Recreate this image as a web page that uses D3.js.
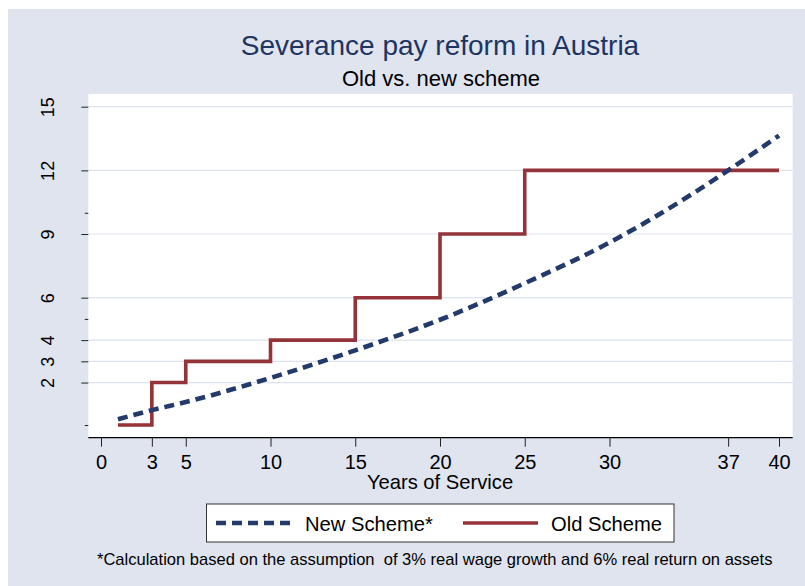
<!DOCTYPE html>
<html>
<head>
<meta charset="utf-8">
<script src="https://cdn.jsdelivr.net/npm/d3@7"></script>
<style>
  html, body { margin: 0; padding: 0; background: #ffffff; }
  svg { display: block; font-family: "Liberation Sans", Arial, Helvetica, sans-serif; }
</style>
</head>
<body>
<svg id="chart" width="805" height="586"></svg>
<script>
// ---- Data ----
const newYears = [1, 3, 5, 10, 15, 20, 25, 30, 35, 37, 40];
const newValues = [0.27, 0.70, 1.08, 2.22, 3.52, 4.96, 6.68, 8.6, 10.95, 12.0, 13.64];
const oldYears = [1, 3, 5, 10, 15, 20, 25, 40];
const oldValues = [0, 2, 3, 4, 6, 9, 12, 12];
const xTickValues = [0, 3, 5, 10, 15, 20, 25, 30, 37, 40];
const yMajorTicks = [2, 3, 4, 6, 9, 12, 15];
const yMinorTicks = [0, 5, 10];
const titleText = "Severance pay reform in Austria";
const subtitleText = "Old vs. new scheme";
const xTitle = "Years of Service";
const legendLabels = ["New Scheme*", "Old Scheme"];
const noteText = "*Calculation based on the assumption  of 3% real wage growth and 6% real return on assets";

// ---- Layout ----
const W = 805, H = 586;
const plot = { left: 88.3, right: 792.7, top: 94, bottom: 437.7 };
const navy = "#243a6b", maroon = "#943339";
const bg = "#dfe4ef";

const svg = d3.select("#chart");
svg.append("rect").attr("x", 8).attr("y", 9).attr("width", W - 8).attr("height", H - 9).attr("fill", bg);
svg.append("rect").attr("x", plot.left).attr("y", plot.top)
  .attr("width", plot.right - plot.left).attr("height", plot.bottom - plot.top).attr("fill", "#ffffff");

const x = d3.scaleLinear().domain([0, 40]).range([101, 779]);
const y = d3.scaleLinear().domain([0, 15]).range([425, 106.7]);

// gridlines
svg.append("g").selectAll("line").data(yMajorTicks).join("line")
  .attr("x1", plot.left).attr("x2", plot.right)
  .attr("y1", d => y(d)).attr("y2", d => y(d))
  .attr("stroke", "#dde3ee").attr("stroke-width", 1.2);

// x axis
const xAxis = svg.append("g").attr("transform", `translate(0,${plot.bottom})`)
  .call(d3.axisBottom(x).tickValues(xTickValues).tickSize(9).tickPadding(8).tickFormat(d3.format("d")));
xAxis.select(".domain").remove();
xAxis.selectAll(".tick line").attr("stroke", "#222").attr("stroke-width", 1);
xAxis.selectAll(".tick text").attr("font-size", 20).attr("fill", "#000")
  .attr("font-family", "'Liberation Sans', Arial, sans-serif");
svg.append("line").attr("x1", plot.left).attr("x2", plot.right)
  .attr("y1", plot.bottom).attr("y2", plot.bottom).attr("stroke", "#000").attr("stroke-width", 1.2);

// y axis
const yAxis = svg.append("g").attr("transform", `translate(${plot.left},0)`)
  .call(d3.axisLeft(y).tickValues(yMajorTicks).tickSize(7).tickFormat(d3.format("d")));
yAxis.select(".domain").remove();
yAxis.selectAll(".tick line").attr("stroke", "#222");
yAxis.selectAll(".tick text")
  .attr("x", null).attr("dy", null).attr("y", 0)
  .attr("text-anchor", "middle")
  .attr("transform", `translate(${54 - plot.left},0) rotate(-90)`)
  .attr("font-size", 18).attr("fill", "#000")
  .attr("font-family", "'Liberation Sans', Arial, sans-serif");
const yMinor = svg.append("g").attr("transform", `translate(${plot.left},0)`)
  .call(d3.axisLeft(y).tickValues(yMinorTicks).tickSize(3.5).tickFormat(""));
yMinor.select(".domain").remove();
yMinor.selectAll(".tick line").attr("stroke", "#222");

// lines
const newData = newYears.map((d, i) => [d, newValues[i]]);
const oldData = oldYears.map((d, i) => [d, oldValues[i]]);
svg.append("path").datum(oldData)
  .attr("d", d3.line().x(d => x(d[0])).y(d => y(d[1])).curve(d3.curveStepAfter))
  .attr("fill", "none").attr("stroke", maroon).attr("stroke-width", 3.6);
svg.append("path").datum(newData)
  .attr("d", d3.line().x(d => x(d[0])).y(d => y(d[1])).curve(d3.curveMonotoneX))
  .attr("fill", "none").attr("stroke", navy).attr("stroke-width", 4.6)
  .attr("stroke-dasharray", "10,6");

// titles
svg.append("text").attr("x", 440).attr("y", 55).attr("text-anchor", "middle")
  .attr("font-size", 28).attr("fill", "#1e3461").text(titleText);
svg.append("text").attr("x", 441).attr("y", 86).attr("text-anchor", "middle")
  .attr("font-size", 22).attr("fill", "#000").text(subtitleText);
svg.append("text").attr("x", 440).attr("y", 489).attr("text-anchor", "middle")
  .attr("font-size", 20.2).attr("fill", "#000").text(xTitle);

// legend
const lg = svg.append("g");
lg.append("rect").attr("x", 206.5).attr("y", 504).attr("width", 467.5).attr("height", 38)
  .attr("fill", "#fff").attr("stroke", "#333").attr("stroke-width", 1);
lg.append("line").attr("x1", 216).attr("x2", 292).attr("y1", 523).attr("y2", 523)
  .attr("stroke", navy).attr("stroke-width", 4.6).attr("stroke-dasharray", "10,6");
lg.append("text").attr("x", 305).attr("y", 530.5).attr("font-size", 20.2).text(legendLabels[0]);
lg.append("line").attr("x1", 463).attr("x2", 538).attr("y1", 523).attr("y2", 523)
  .attr("stroke", maroon).attr("stroke-width", 3.6);
lg.append("text").attr("x", 551).attr("y", 530.5).attr("font-size", 20.2).text(legendLabels[1]);

// note
svg.append("text").attr("x", 97).attr("y", 565).attr("font-size", 16.55)
  .style("white-space", "pre").attr("fill", "#000").text(noteText);
</script>
</body>
</html>
